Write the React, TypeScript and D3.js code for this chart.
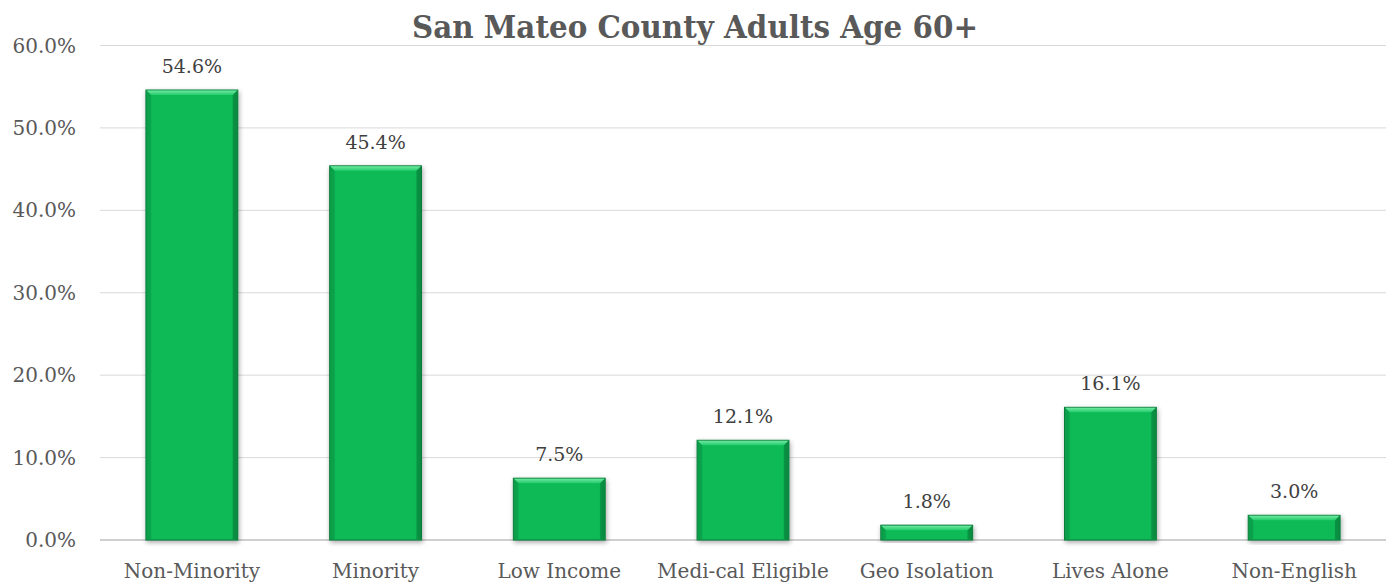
import React from "react";
import * as d3 from "d3";

const categories = ["Non-Minority", "Minority", "Low Income", "Medi-cal Eligible", "Geo Isolation", "Lives Alone", "Non-English"];
const values = [54.6, 45.4, 7.5, 12.1, 1.8, 16.1, 3.0];
const yTicks = [0, 10, 20, 30, 40, 50, 60];
const title = "San Mateo County Adults Age 60+";

const W = 1395, H = 584;
const left = 100, right = 1386, top = 45.5, bottom = 540;
const FONT = "'DejaVu Serif', serif";

export default function App() {
  const x = d3.scaleBand<string>().domain(categories).range([left, right]).paddingInner(0.5).paddingOuter(0.25);
  const y = d3.scaleLinear().domain([0, 60]).range([bottom, top]);
  const bw = x.bandwidth();
  const bev = 5;
  return (
    <svg width={W} height={H} style={{ position: "absolute", left: 0, top: 0, background: "#fff" }}>
      <defs>
        <linearGradient id="topBev" x1="0" y1="0" x2="0" y2="1">
          <stop offset="0" stopColor="#6fe8a0" />
          <stop offset="1" stopColor="#23cc6c" />
        </linearGradient>
        <linearGradient id="body" x1="0" y1="0" x2="1" y2="0">
          <stop offset="0" stopColor="#0a9f4a" />
          <stop offset="0.07" stopColor="#0bba57" />
          <stop offset="0.93" stopColor="#0bba57" />
          <stop offset="1" stopColor="#099747" />
        </linearGradient>
        <filter id="shadow" x="-20%" y="-20%" width="140%" height="140%">
          <feGaussianBlur in="SourceAlpha" stdDeviation="2.5" />
          <feOffset dx="1" dy="2" result="ob" />
          <feComponentTransfer><feFuncA type="linear" slope="0.35" /></feComponentTransfer>
          <feMerge><feMergeNode /><feMergeNode in="SourceGraphic" /></feMerge>
        </filter>
      </defs>
      <text x={412} y={38} textLength={566} lengthAdjust="spacingAndGlyphs" fontFamily={FONT} fontWeight="bold" fontSize={31} fill="#595959">{title}</text>
      {yTicks.map(t => (
        <g key={t}>
          <line x1={left} x2={right} y1={y(t)} y2={y(t)} stroke={t === 0 ? "#bfbfbf" : "#d9d9d9"} strokeWidth={t === 0 ? 1.5 : 1} />
          <text x={76} y={y(t) + 7} textAnchor="end" fontFamily={FONT} fontSize={20} fill="#595959">{t.toFixed(1) + "%"}</text>
        </g>
      ))}
      {categories.map((c, i) => {
        const x0 = x(c)!;
        const y0 = y(values[i]);
        const h = bottom - y0;
        return (
          <g key={c}>
            <g filter="url(#shadow)">
              <rect x={x0} y={y0} width={bw} height={h} fill="url(#body)" stroke="#0b7d3c" strokeWidth={1} />
            </g>
            <polygon points={`${x0 + 0.5},${y0 + 0.5} ${x0 + bw - 0.5},${y0 + 0.5} ${x0 + bw - bev},${y0 + bev} ${x0 + bev},${y0 + bev}`} fill="url(#topBev)" />
            <polygon points={`${x0 + 0.5},${y0 + 0.5} ${x0 + bev},${y0 + bev} ${x0 + bev},${bottom - 1} ${x0 + 0.5},${bottom - 0.5}`} fill="#0a9a48" opacity={0.6} />
            <polygon points={`${x0 + bw - 0.5},${y0 + 0.5} ${x0 + bw - bev},${y0 + bev} ${x0 + bw - bev},${bottom - 1} ${x0 + bw - 0.5},${bottom - 0.5}`} fill="#087f3b" opacity={0.6} />
            <text x={x0 + bw / 2} y={y0 - 17} textAnchor="middle" fontFamily={FONT} fontSize={19} fill="#404040">{values[i].toFixed(1) + "%"}</text>
            <text x={x0 + bw / 2} y={578} textAnchor="middle" fontFamily={FONT} fontSize={20} fill="#595959">{c}</text>
          </g>
        );
      })}
    </svg>
  );
}
